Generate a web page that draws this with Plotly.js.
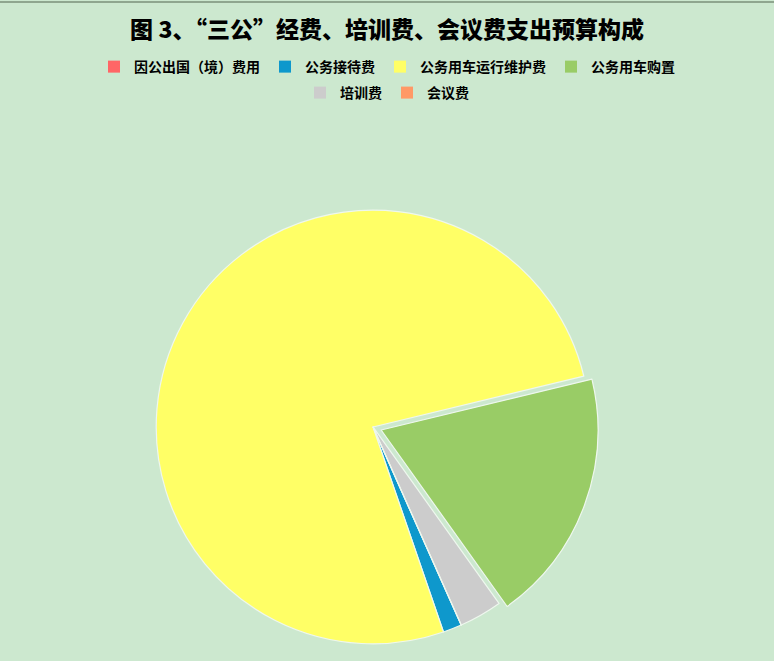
<!DOCTYPE html>
<html>
<head>
<meta charset="utf-8">
<script src="https://cdn.plot.ly/plotly-3.0.1.min.js"></script>
<style>
  html, body { margin: 0; padding: 0; background: #cce8cf; }
  #chart { width: 774px; height: 661px; }
</style>
</head>
<body>
<div id="chart"></div>
<script>
// budget composition (share of total, %)
var labels = ['因公出国（境）费用', '公务接待费', '公务用车运行维护费', '公务用车购置', '培训费', '会议费'];
var values = [0, 1.4, 76.5, 18.9, 3.2, 0];
var colors = ['#ff6666', '#0e98cc', '#ffff66', '#99cc66', '#cccccc', '#ff9966'];
var pulls = [0, 0, 0, 0.04, 0, 0];
// legend rows: first four entries on top, the other two centred below
var rowOne = [0, 1, 2, 3];
var rowTwo = [4, 5];

var mainPie = {
  type: 'pie',
  labels: labels,
  values: values,
  sort: false,
  direction: 'clockwise',
  rotation: 156,
  pull: pulls,
  textinfo: 'none',
  hoverinfo: 'label+percent',
  showlegend: false,
  marker: {
    colors: colors,
    line: { color: '#eef7ee', width: 1.2 }
  },
  domain: { x: [0.1906, 0.7733], y: [0.0129, 0.6952] }
};

// legend-only pies: near-zero domain, so they only feed their own legend row
function legendRow(idx, legendId) {
  return {
    type: 'pie',
    labels: idx.map(function (i) { return labels[i]; }),
    values: idx.map(function (i) { return values[i]; }),
    marker: {
      colors: idx.map(function (i) { return colors[i]; }),
      line: { width: 0 }
    },
    sort: false,
    textinfo: 'none',
    hoverinfo: 'skip',
    legend: legendId,
    domain: { x: [0, 0.00001], y: [0, 0.00001] }
  };
}

var legendFont = { size: 14, weight: 'bold', color: '#000000' };

var layout = {
  width: 774,
  height: 661,
  paper_bgcolor: '#cce8cf',
  plot_bgcolor: '#cce8cf',
  margin: { t: 0, r: 0, b: 0, l: 0 },
  font: { family: '"Noto Sans CJK SC", sans-serif', color: '#000000' },
  title: {
    text: '图 3、“三公”经费、培训费、会议费支出预算构成',
    font: { size: 23, weight: 900, color: '#000000' },
    x: 0.5,
    xanchor: 'center',
    y: 0.955,
    yanchor: 'middle'
  },
  showlegend: true,
  legend: {
    orientation: 'h',
    x: 0.5, xanchor: 'center',
    y: 0.8986, yanchor: 'middle',
    font: legendFont,
    bgcolor: 'rgba(0,0,0,0)'
  },
  legend2: {
    orientation: 'h',
    x: 0.5, xanchor: 'center',
    y: 0.8593, yanchor: 'middle',
    font: legendFont,
    bgcolor: 'rgba(0,0,0,0)'
  },
  // thin frame line at the very top
  shapes: [{
    type: 'line',
    xref: 'paper', yref: 'paper',
    x0: 0, x1: 1, y0: 0.997, y1: 0.997,
    line: { color: '#8fa68f', width: 2 }
  }]
};

var data = [mainPie, legendRow(rowOne, 'legend'), legendRow(rowTwo, 'legend2')];

Plotly.newPlot('chart', data, layout, { displayModeBar: false, staticPlot: true });
</script>
</body>
</html>
